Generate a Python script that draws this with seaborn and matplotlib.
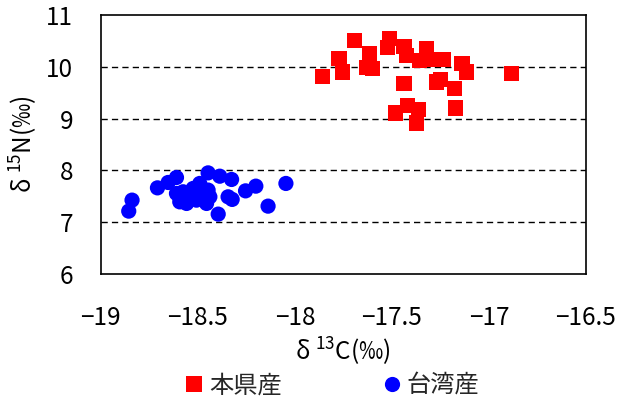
import numpy as np
import pandas as pd
import matplotlib
matplotlib.use("Agg")
import matplotlib.pyplot as plt
import seaborn as sns

# δ13C / δ15N of samples by origin
honken_c = [-17.857, -17.772, -17.754, -17.694, -17.617, -17.630, -17.599, -17.514,
            -17.524, -17.437, -17.424, -17.321, -17.356, -17.304, -17.232, -17.138,
            -17.115, -16.883, -17.437, -17.270, -17.250, -17.179, -17.421, -17.481,
            -17.361, -17.373, -17.172]
honken_n = [9.815, 10.156, 9.898, 10.509, 10.250, 9.994, 9.963, 10.540,
            10.380, 10.393, 10.220, 10.360, 10.120, 10.140, 10.140, 10.070,
            9.898, 9.866, 9.674, 9.706, 9.750, 9.578, 9.256, 9.108,
            9.173, 8.915, 9.204]

taiwan_c = [-18.856, -18.839, -18.708, -18.653, -18.610, -18.447, -18.387, -18.326,
            -18.490, -18.447, -18.610, -18.593, -18.550, -18.558, -18.507, -18.490,
            -18.455, -18.395, -18.344, -18.323, -18.254, -18.201, -18.138, -18.046,
            -18.576, -18.524, -18.438]
taiwan_n = [7.214, 7.426, 7.663, 7.767, 7.863, 7.952, 7.888, 7.825,
            7.748, 7.620, 7.555, 7.393, 7.520, 7.362, 7.426, 7.555,
            7.362, 7.156, 7.490, 7.440, 7.605, 7.696, 7.310, 7.748,
            7.587, 7.652, 7.490]

groups = ["本県産", "台湾産"]
colors = {"本県産": "#ff0000", "台湾産": "#0000ff"}
markers = {"本県産": "s", "台湾産": "o"}

df = pd.DataFrame({
    "c13": honken_c + taiwan_c,
    "n15": honken_n + taiwan_n,
    "origin": [groups[0]] * len(honken_c) + [groups[1]] * len(taiwan_c),
})

sns.set_theme(style="white")
plt.rcParams["font.family"] = ["Noto Sans CJK JP", "DejaVu Sans"]
plt.rcParams["mathtext.fontset"] = "custom"
plt.rcParams["mathtext.rm"] = "Noto Sans CJK JP"
plt.rcParams["axes.unicode_minus"] = True

fig, ax = plt.subplots(figsize=(6.3, 4.0), dpi=100)
fig.subplots_adjust(left=0.160, right=0.930, top=0.9625, bottom=0.315)

sns.scatterplot(data=df, x="c13", y="n15", hue="origin", style="origin",
                hue_order=groups, style_order=groups,
                palette=colors, markers=markers, s=120, linewidth=0,
                ax=ax, zorder=3)

ax.set_xlim(-19, -16.5)
ax.set_ylim(6, 11)
ax.set_xticks([-19, -18.5, -18, -17.5, -17, -16.5])
ax.set_xticklabels(["\u221219", "\u221218.5", "\u221218", "\u221217.5", "\u221217", "\u221216.5"])
ax.set_yticks([6, 7, 8, 9, 10, 11])

for y in [7, 8, 9, 10]:
    ax.axhline(y, color="black", lw=1.0, linestyle=(0, (4.5, 3)), zorder=1)

for sp in ax.spines.values():
    sp.set_color("black")
    sp.set_linewidth(1.2)

ax.tick_params(axis="x", direction="in", length=5, width=1, color="black",
               labelsize=17.5, pad=22, labelcolor="black")
ax.tick_params(axis="y", direction="in", length=0, labelsize=17.5, pad=20,
               labelcolor="black")

ax.set_xlabel("δ $^{\\mathregular{13}}$C(‰)", fontsize=17.5, color="black", labelpad=4)
ax.set_ylabel("δ $^{\\mathregular{15}}$N(‰)", fontsize=17.5, color="black", labelpad=4)

sns.move_legend(ax, "lower center", bbox_to_anchor=(0.527, -0.05),
                bbox_transform=fig.transFigure, ncol=2, frameon=False,
                title=None, fontsize=17.5, columnspacing=4.1, handlelength=0.8,
                handletextpad=0.22, markerscale=1.0)

fig.savefig("out.png", dpi=100)
